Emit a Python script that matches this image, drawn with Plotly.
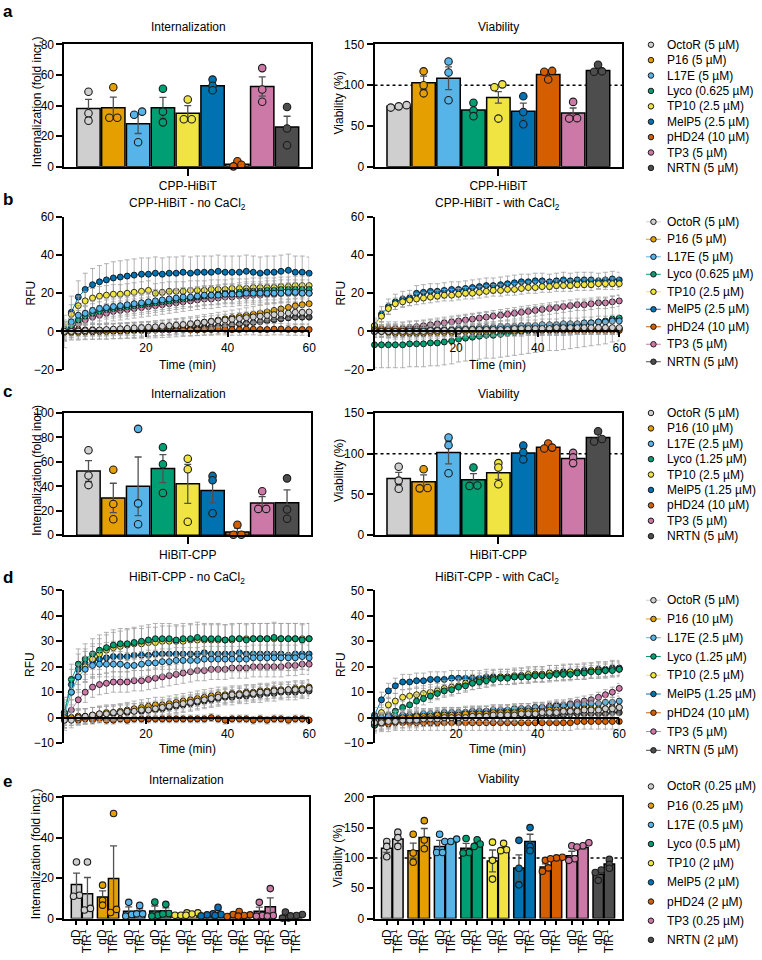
import plotly.graph_objects as go

W, H = 762, 960
FONT = "Liberation Sans, Arial, Helvetica, sans-serif"

# ---------------- data ----------------
PEPTIDES = ["OctoR", "P16", "L17E", "Lyco", "TP10", "MelP5", "pHD24", "TP3", "NRTN"]
COLORS = ["#CFCFCF", "#E69F00", "#56B4E9", "#009E73", "#F0E442", "#0072B2", "#D55E00", "#CC79A7", "#4D4D4D"]

LEG_A = ["OctoR (5 µM)", "P16 (5 µM)", "L17E (5 µM)", "Lyco (0.625 µM)", "TP10 (2.5 µM)",
         "MelP5 (2.5 µM)", "pHD24 (10 µM)", "TP3 (5 µM)", "NRTN (5 µM)"]
LEG_C = ["OctoR (5 µM)", "P16 (10 µM)", "L17E (2.5 µM)", "Lyco (1.25 µM)", "TP10 (2.5 µM)",
         "MelP5 (1.25 µM)", "pHD24 (10 µM)", "TP3 (5 µM)", "NRTN (5 µM)"]
LEG_E = ["OctoR (0.25 µM)", "P16 (0.25 µM)", "L17E (0.5 µM)", "Lyco (0.5 µM)", "TP10 (2 µM)",
         "MelP5 (2 µM)", "pHD24 (2 µM)", "TP3 (0.25 µM)", "NRTN (2 µM)"]

# panel a
A_INT_MEAN = [38, 38.5, 28, 38.5, 35, 53, 1.5, 52.5, 26]
A_INT_SEM = [6, 7, 6.3, 6.8, 5, 2, 0.8, 6.3, 7]
A_INT_PTS = [[49, 35, 30], [52, 32, 32], [36, 34, 16], [51, 36, 29], [44, 31, 31],
             [57, 53, 50], [3.5, 0.2, 1.2], [64.5, 50.5, 42.5], [39, 25, 14]]
A_VIA_MEAN = [74, 103, 108.5, 69.5, 85, 68, 113, 66, 118]
A_VIA_SEM = [1, 8, 14, 5.5, 7, 10, 3.5, 6, 3]
A_VIA_PTS = [[72.5, 75.5, 74], [117, 100, 90], [129, 115.5, 81.5], [78.5, 69, 62], [101, 97.5, 59],
             [86.5, 67, 52], [117.5, 116.5, 107], [79.5, 59.5, 59], [125, 117, 116.5]]

# panel c
C_INT_MEAN = [52.5, 30.5, 40, 54.5, 42, 36.5, 2.7, 26.3, 26.5]
C_INT_SEM = [8.5, 12, 24, 11.5, 16, 10, 3, 5.2, 10.5]
C_INT_PTS = [[69.5, 48.8, 41], [53.5, 25.5, 13], [87, 26, 9], [72, 58, 34.5], [62.5, 54, 11],
             [48.5, 45, 18], [8.5, 0.3, 0.3], [36, 21.5, 21.5], [46.5, 21, 13.5]]
C_VIA_MEAN = [69.5, 65.5, 101.5, 68, 76.5, 101, 108, 94, 120]
C_VIA_SEM = [7.5, 8.5, 14, 7.5, 8, 6, 2.5, 4, 4.5]
C_VIA_PTS = [[84, 67, 57], [81, 58, 57.5], [120, 110.5, 76], [83, 61, 60.5], [88.5, 83, 62.5],
             [110, 101.5, 93], [112.5, 107.5, 106.5], [101, 95.5, 88.5], [127.5, 118, 115]]

# panel e (gD / TfR1 pairs)
E_GROUPS = ["gD", "TfR<sup>1</sup>"]
E_INT_GD_MEAN = [16.8, 10.7, 3.6, 3.7, 2.0, 1.8, 2.2, 3.6, 1.2]
E_INT_GD_SEM = [5.7, 3, 2.2, 2.5, 0.4, 0.3, 0.8, 2, 0.8]
E_INT_GD_PTS = [[28, 11.5, 11], [16.5, 9, 6.6], [8, 1.2, 2], [8.2, 1.6, 1.2], [2.8, 1.6, 1.6],
                [2.3, 1.8, 1.3], [3.5, 2, 1], [8, 1.5, 1.2], [3.2, 0.3, 0.2]]
E_INT_TFR_MEAN = [12.3, 19.8, 3.6, 3.9, 2.2, 3.0, 1.5, 5.8, 1.6]
E_INT_TFR_SEM = [8, 16.2, 1.2, 1.4, 0.4, 1.2, 0.3, 4.4, 0.2]
E_INT_TFR_PTS = [[28, 4.2, 5], [52, 3, 4.5], [6.5, 2.3, 2.3], [7, 2.5, 2.2], [2.8, 2.2, 1.6],
                 [5.5, 2, 1.5], [1.8, 1.5, 1.2], [14.8, 1.5, 1.2], [2, 1.5, 1.3]]
E_VIA_GD_MEAN = [116, 112, 119, 116, 95, 83.5, 85, 103.5, 73]
E_VIA_GD_SEM = [7, 12.5, 10, 8, 18, 21.5, 5.2, 7.5, 5]
E_VIA_GD_PTS = [[127, 119, 102], [139, 108, 93], [139, 109, 109], [132, 109, 108], [126, 96, 65],
                [129, 83, 55.5], [96, 83.5, 78], [120, 98.5, 96], [80, 76, 63]]
E_VIA_TFR_MEAN = [131, 133.5, 127, 122, 113, 127, 99, 117, 90]
E_VIA_TFR_SEM = [8, 15, 2, 3.5, 4, 12, 1, 2.5, 4]
E_VIA_TFR_PTS = [[142.5, 133.5, 119], [161.5, 129.5, 115], [131, 127, 127], [130, 123, 119],
                 [124, 113.5, 112], [150, 119, 112], [101, 100, 98.5], [125, 120, 118], [97.5, 89, 83]]

# kinetic panels (RFU vs time)
TIME_MIN = [0, 1.7, 3.4, 5.1, 6.9, 8.6,
            10.3, 12, 13.7, 15.4, 17.1, 18.9,
            20.6, 22.3, 24, 25.7, 27.4, 29.1,
            30.9, 32.6, 34.3, 36, 37.7, 39.4,
            41.1, 42.9, 44.6, 46.3, 48, 49.7,
            51.4, 53.1, 54.9, 56.6, 58.3, 60]

B_NO = {
    "OctoR": [0, 0, 0.2, 0.4, 0.6, 0.8, 1, 1.2, 1.4, 1.6, 1.8, 2, 2.2, 2.4, 2.7, 3, 3.3, 3.6,
              4, 4.4, 4.8, 5.2, 5.6, 6, 6.4, 6.8, 7.2, 7.6, 8, 8.4, 8.8, 9.2, 9.6, 10, 10, 10.2],
    "P16": [-0.5, -0.5, -0.5, -0.3, -0.2, 0, 0, 0.2, 0.4, 0.6, 0.8, 1, 1.3, 1.6, 2, 2.4, 2.8, 3.2,
            3.7, 4.2, 4.8, 5.4, 6, 6.6, 7.2, 7.8, 8.4, 9, 9.6, 10.2, 11, 11.8, 12.6, 13.4, 14, 14.5],
    "L17E": [0, 5, 8.5, 9.5, 11, 12, 12.5, 13, 13.5, 14, 14.5, 15, 15.5, 16, 16.5, 17, 17.5, 18,
             18, 18.5, 19, 19, 19, 19.5, 19.5, 19.5, 20, 20, 20, 20, 20, 20, 20.5, 20.5, 20, 20],
    "Lyco": [0, 3, 6, 8, 9.5, 10.5, 11.5, 12, 12.5, 13, 13.5, 14, 14.5, 15, 15.5, 16, 16.5, 17,
             17.5, 18, 18.5, 19, 19.5, 20, 20, 20.5, 21, 21, 21, 21.5, 21.5, 22, 22, 22, 22, 22],
    "TP10": [1, 9, 13.5, 16, 17.5, 18.5, 19, 19.5, 19.5, 20, 20.5, 21, 21.5, 20, 20.5, 21, 21, 21,
             21.5, 21.5, 21.5, 22, 22, 22, 22.5, 22.5, 22.5, 23, 23, 23, 23, 23.5, 23.5, 24, 24, 24],
    "MelP5": [0, 10, 18, 22, 24.5, 26, 27, 28, 28.5, 29, 29.5, 30, 30, 30.5, 30, 30.5, 30.5, 31,
              30.5, 31, 31, 31, 31.5, 31, 31, 31, 31.5, 31, 30.5, 31, 31, 31.5, 32, 31, 31, 30.5],
    "pHD24": [0.5, 1, 1, 0.8, 0.8, 0.6, 0.6, 0.8, 1, 1, 0.8, 0.6, 0.6, 0.8, 1, 1, 1.2, 1,
              0.8, 0.8, 1, 1, 1.2, 1.2, 1, 1, 1.2, 1.2, 1, 1, 1.2, 1.2, 1, 1, 1, 1],
    "TP3": [0, 2, 4, 6, 7.5, 8.5, 9.5, 10.5, 11, 11.5, 12, 12.5, 13, 13.5, 14, 14.5, 15, 15.5,
            16, 16.5, 17, 17, 17.5, 18, 18, 18.5, 18.5, 19, 19, 19.5, 19.5, 20, 20, 20, 20, 20],
    "NRTN": [0, 0, 0, 0, 0, 0, 0, 0.2, 0.2, 0.3, 0.4, 0.5, 0.6, 0.7, 0.8, 1, 1.2, 1.4,
             1.6, 1.9, 2.2, 2.5, 2.8, 3.1, 3.5, 3.9, 4.3, 4.7, 5.1, 5.6, 6.1, 6.6, 7.1, 7.5, 7.5, 7.5],
}
B_NO_SD = [3, 4, 5, 5, 5, 8.5, 3, 5, 4]

B_CA = {
    "OctoR": [0, 0, 0, 0, 0, 0, 0, 0, 0.5, 0.5, 0.5, 0.5, 0.5, 1, 1, 1, 1, 1,
              1, 1, 1.5, 1.5, 1.5, 1.5, 1.5, 1.5, 2, 2, 2, 2, 2, 2, 2, 2, 2, 2],
    "P16": [1, 0, -0.5, -1, -1, -1, -1, -1, -0.5, -0.5, -0.5, -0.5, 0, 0, 0, 0, 0, 0.5,
            0.5, 0.5, 0.5, 0.5, 1, 1, 1, 1, 1, 1, 1.5, 1.5, 1.5, 1.5, 1.5, 1.5, 1.5, 1.5],
    "L17E": [0, 0, 0, 0, 0, 0.5, 0.5, 0.5, 1, 1, 1, 1, 1.5, 1.5, 1.5, 2, 2, 2,
             2.5, 2.5, 2.5, 3, 3, 3, 3.5, 3.5, 3.5, 4, 4, 4, 4.5, 4.5, 5, 5, 5.5, 5.5],
    "Lyco": [-7, -7, -7, -7, -7, -6.5, -6.5, -6.5, -6, -6, -5.5, -5, -4, -3.5, -3, -2.5, -2, -2,
             -1.5, -1, -0.5, 0, 0.5, 1, 1.5, 2, 2, 2.5, 3, 3.5, 4, 4.5, 5, 5.5, 6.5, 7],
    "TP10": [3, 8, 12, 14.5, 15.5, 16.5, 17, 17.5, 18, 18.5, 19, 19, 19.5, 20, 20, 20.5, 21, 21.5,
             21.5, 22, 22, 22.5, 23, 23, 23.5, 23.5, 24, 24, 24, 24.5, 24.5, 24.5, 25, 25, 25, 25],
    "MelP5": [3, 9, 13, 15.5, 17, 17.5, 20, 20.5, 21, 21, 21.5, 22, 22, 22.5, 23, 23.5, 24, 24,
              24.5, 25, 25.5, 26, 26, 26.5, 26.5, 26, 26.5, 27, 26.5, 27, 27, 27, 26.5, 27, 27.5, 27],
    "pHD24": [1, 1.5, 1.5, 1.5, 1, 1, 1, 1, 1, 1, 0.5, 0.5, 0.5, 0.5, 0.5, 0.5, 0.5, 0.5,
              0.5, 0.5, 0.5, 0.5, 0.5, 0.5, 0.5, 0.5, 0.5, 0.5, 0.5, 0.5, 0.5, 0.5, 0.5, 0.5, 0.5, 0.5],
    "TP3": [0, 0.5, 1, 1, 1.5, 2, 2.5, 3, 3.5, 4, 4.5, 5, 5.5, 6, 6.5, 7, 7.5, 8,
            8.5, 9, 9.5, 10, 10.5, 11, 11.5, 12, 12.5, 13, 13.5, 14, 14, 14.5, 15, 15, 15.5, 16],
    "NRTN": [0, 0.5, 0.5, 0.5, 0.5, 0.5, 0.5, 0.5, 0.5, 0.5, 0.5, 0.5, 0.5, 0.5, 0.5, 1, 1, 1,
             1, 1, 1, 1, 1, 1, 1, 1, 1, 1, 1, 1.5, 1.5, 1.5, 1.5, 1.5, 1.5, 1.5],
}
B_CA_SD = [3, 3, 3, 12, 3, 4, 2, 3, 3]

D_NO = {
    "OctoR": [-1, -1, 0, 0.5, 1, 1.5, 1.5, 2, 2, 2.5, 2.5, 3, 3, 3.5, 4, 4.5, 5, 5.5,
              6, 6.5, 7, 7.5, 8, 8.5, 9, 9, 9.5, 9.5, 10, 10, 10.5, 10.5, 11, 11, 11, 11.5],
    "P16": [0, 0, 0.5, 0.5, 1, 1.5, 2, 2, 2.5, 3, 3.5, 4, 4.5, 5, 5, 5.5, 6, 6.5,
            7, 7.5, 8, 8.5, 9, 9, 9.5, 9.5, 10, 10, 10.5, 10.5, 11, 11, 11, 11.5, 11.5, 12],
    "L17E": [1, 10, 16, 19, 20.5, 21, 21, 21, 21, 20.5, 20.5, 21, 21.5, 21.5, 22, 22, 22.5, 22.5,
             22.5, 22.5, 23, 23, 23, 23, 23, 23, 23, 23.5, 23.5, 23.5, 23.5, 23.5, 23.5, 23.5, 24, 23.5],
    "Lyco": [2, 15, 21, 23, 25, 26.5, 27.5, 28.5, 29, 29, 29.5, 30, 30.5, 31, 31, 31, 30.5, 31,
             31, 31.5, 31, 31, 31, 30.5, 31, 31, 30.5, 31, 31, 31, 31.5, 31, 31, 31, 30.5, 31],
    "TP10": [1, 10, 16, 20, 23, 25, 26.5, 27.5, 28, 28.5, 29, 29, 29.5, 29.5, 30, 30, 30, 30,
             30.5, 30.5, 30.5, 30.5, 30.5, 30.5, 30.5, 31, 31, 31, 31, 31, 31, 31, 31, 31, 31, 31],
    "MelP5": [2, 13, 19, 21, 22, 23, 23.5, 24, 24, 24, 24.5, 24.5, 24.5, 25, 25, 25, 25, 25,
              25, 25, 25.5, 25, 25, 25, 25, 25.5, 25, 25, 25, 25, 25, 25, 24.5, 25, 25, 25],
    "pHD24": [-1, -0.5, -1, -0.5, -1, -0.5, -1, -1, -0.5, -1, -0.5, -0.5, -0.5, -0.5, -0.5, -0.5, -0.5, -0.5,
              -0.5, -0.5, -0.5, 0, -0.5, -1, -0.5, -0.5, -0.5, -1, -0.5, -1, -0.5, -0.5, -1, -0.5, -0.5, -1],
    "TP3": [0, 3, 7, 10, 12, 13, 13.5, 14, 14, 14, 14.5, 14.5, 15, 15.5, 16, 16.5, 17, 17.5,
            18, 18.5, 18.5, 19, 19, 19, 19.5, 19.5, 19.5, 20, 20, 20, 20, 20, 20.5, 20.5, 21, 21],
    "NRTN": [0, 0, 0.5, 0.5, 1, 1, 1.5, 1.5, 2, 2, 2.5, 2.5, 3, 3, 3.5, 4, 4.5, 5,
             5.5, 6, 6.5, 7, 7.5, 8, 8, 8.5, 8.5, 9, 9, 9.5, 9.5, 10, 10, 10, 10.5, 10.5],
}
D_NO_SD = [3, 3, 5, 6, 6, 6, 1.5, 4, 3]

D_CA = {
    "OctoR": [-2, -2, -1.5, -1.5, -1, -1, -1, -0.5, -0.5, -0.5, 0, 0, 0, 0, 0.5, 0.5, 0.5, 1,
              1, 1, 1, 1.5, 1.5, 1.5, 2, 2, 2, 2.5, 2.5, 2.5, 3, 3, 3, 3.5, 3.5, 4],
    "P16": [-2, -1.5, -1, -0.5, 0, 0, 0.5, 0.5, 0.5, 1, 1, 1, 1, 1.5, 1.5, 1.5, 1.5, 2,
            2, 2, 2, 2.5, 2.5, 2.5, 2.5, 3, 3, 3, 3, 3, 3.5, 3.5, 3.5, 3.5, 4, 4],
    "L17E": [0, 0, 0.5, 0.5, 1, 1, 1, 1.5, 1.5, 1.5, 2, 2, 2, 2, 2.5, 2.5, 2.5, 3,
             3, 3, 3.5, 3.5, 3.5, 4, 4, 4, 4.5, 4.5, 5, 5, 5, 5.5, 5.5, 6, 6, 6.5],
    "Lyco": [-3, -1, 1, 2.5, 4, 5, 6.5, 7.5, 8.5, 9.5, 10.5, 11, 12, 12.5, 13.5, 14, 14.5, 15,
             15.5, 15.5, 16, 16, 16, 16.5, 16.5, 16.5, 17, 17, 17, 17.5, 17.5, 18, 18, 18.5, 18.5, 19],
    "TP10": [-2, 2, 5, 6.5, 8, 8.5, 9, 9.5, 10, 10.5, 11.5, 12, 12.5, 13.5, 14, 14.5, 15, 15.5,
             16, 16, 16.5, 16.5, 17, 17, 17, 17.5, 17.5, 17.5, 18, 18, 18, 18.5, 18.5, 18.5, 19, 19],
    "MelP5": [1, 7, 10.5, 12.5, 14, 14, 14.5, 14.5, 15, 15, 15, 15.5, 15.5, 15.5, 15.5, 15.5, 16, 16,
              16, 16, 16, 16.5, 16.5, 17, 17, 17.5, 17.5, 18, 18, 18, 18.5, 18.5, 19, 19, 19.5, 19.5],
    "pHD24": [-3, -2.5, -2.5, -2, -2, -2, -2, -2, -2, -2, -2, -2, -2, -2, -2, -2, -2, -2,
              -2, -2, -2, -2, -2, -2, -2, -2, -2, -2, -2, -1.5, -1.5, -1.5, -1.5, -1.5, -1.5, -1.5],
    "TP3": [0, -0.5, 0, 0, 0.5, 0.5, 0.5, 1, 1, 1, 1.5, 1.5, 1.5, 2, 2, 2, 2.5, 2.5,
            2.5, 3, 3, 3.5, 3.5, 4, 4, 4.5, 5, 5, 5.5, 6, 6.5, 7, 8, 9, 10, 11.5],
    "NRTN": [-2, -1.5, -1, -1, -1, -0.5, -0.5, -0.5, 0, 0, 0, 0, 0, 0, 0.5, 0.5, 0.5, 0.5,
             0.5, 0.5, 1, 1, 1, 1, 1, 1, 1, 1, 1.5, 1.5, 1.5, 1.5, 1.5, 1.5, 2, 2],
}
D_CA_SD = [3, 3, 2, 2.5, 3, 3, 3, 2, 3]

# ---------------- helpers ----------------
fig = go.Figure()
layout = dict(width=W, height=H, margin=dict(l=0, r=0, t=0, b=0),
              paper_bgcolor="white", plot_bgcolor="white", showlegend=False,
              barmode="overlay", font=dict(family=FONT, size=12, color="black"))
annotations, shapes = [], []
_axn = [0]


def px_x(x):
    return x / W


def px_y(y):
    return 1 - y / H


def add_axes(xpx, ypx, xopts, yopts):
    _axn[0] += 1
    s = "" if _axn[0] == 1 else str(_axn[0])
    layout["xaxis" + s] = dict(domain=[px_x(xpx[0]), px_x(xpx[1])], anchor="y" + s, **xopts)
    layout["yaxis" + s] = dict(domain=[px_y(ypx[1]), px_y(ypx[0])], anchor="x" + s, **yopts)
    return "x" + s, "y" + s


def axis_style(**kw):
    d = dict(showline=True, linecolor="black", linewidth=2, ticks="outside", ticklen=6,
             tickwidth=2, tickcolor="black", showgrid=False, zeroline=False,
             tickfont=dict(family=FONT, size=12, color="black"), fixedrange=True)
    d.update(kw)
    return d


def text(x, y, s, size=12, bold=False, angle=0, xanchor="center", yanchor="middle"):
    annotations.append(dict(x=px_x(x), y=px_y(y), xref="paper", yref="paper",
                            text=f"<b>{s}</b>" if bold else s, showarrow=False,
                            font=dict(size=size, family=FONT, color="black"),
                            textangle=angle, xanchor=xanchor, yanchor=yanchor))


def swarm(vals, py_per_unit, step_units, thr_px=3.5):
    order = sorted(range(len(vals)), key=lambda i: vals[i])
    clusters = [[order[0]]]
    for i in order[1:]:
        if (vals[i] - vals[clusters[-1][-1]]) * py_per_unit < thr_px:
            clusters[-1].append(i)
        else:
            clusters.append([i])
    offs = [0.0] * len(vals)
    for cl in clusters:
        k = len(cl)
        for j, i in enumerate(cl):
            offs[i] = (j - (k - 1) / 2) * step_units
    return offs


def bar_panel(xpx, ypx, xrange, yrange, ytickvals, positions, means, sems, points, colors,
              xtickvals, xticktext, spread_px, msize, tickangle=0, xticklen=7, ref100=False):
    xa, ya = add_axes(xpx, ypx,
                      axis_style(range=xrange, tickvals=xtickvals, ticktext=xticktext, mirror=True,
                                 tickangle=tickangle, ticklen=xticklen),
                      axis_style(range=yrange, tickvals=ytickvals, mirror=True))
    py_per_unit = (ypx[1] - ypx[0]) / (yrange[1] - yrange[0])
    px_per_unit = (xpx[1] - xpx[0]) / (xrange[1] - xrange[0])
    if ref100:
        shapes.append(dict(type="line", xref=f"{xa} domain", yref=ya, x0=0, x1=1, y0=100, y1=100,
                           line=dict(color="black", width=1.5, dash="dot"), layer="below"))
    fig.add_trace(go.Bar(x=positions, y=means, width=0.94, xaxis=xa, yaxis=ya,
                         marker=dict(color=colors, line=dict(color="black", width=1.5)),
                         error_y=dict(type="data", array=sems, color="#505050", thickness=1.3, width=3.5)))
    xs, ys, cs = [], [], []
    for pos, pts, c in zip(positions, points, colors):
        offs = swarm(pts, py_per_unit, spread_px / px_per_unit)
        for v, o in zip(pts, offs):
            xs.append(pos + o)
            ys.append(v)
            cs.append(c)
    fig.add_trace(go.Scatter(x=xs, y=ys, mode="markers", xaxis=xa, yaxis=ya, cliponaxis=False,
                             marker=dict(color=cs, size=msize, line=dict(color="#1a1a1a", width=1.1))))
    return xa, ya


def ts_panel(xpx, ypx, yrange, ytickvals, series, sds):
    ymin, ymax = yrange
    y0_px = ypx[1] - (0 - ymin) / (ymax - ymin) * (ypx[1] - ypx[0])
    xa, ya = add_axes(xpx, ypx,
                      axis_style(range=[0, 60], tickvals=[20, 40, 60], ticklen=5),
                      axis_style(range=yrange, tickvals=ytickvals))
    key = "xaxis" + xa[1:]
    layout[key]["anchor"] = "free"
    layout[key]["position"] = px_y(y0_px)
    for i in reversed(range(len(PEPTIDES))):
        fig.add_trace(go.Scatter(x=TIME_MIN, y=series[PEPTIDES[i]], mode="lines+markers",
                                 xaxis=xa, yaxis=ya, cliponaxis=False,
                                 line=dict(color=COLORS[i], width=1),
                                 marker=dict(color=COLORS[i], size=6, line=dict(color="black", width=0.8)),
                                 error_y=dict(type="constant", value=sds[i], color="#a0a0a0",
                                              thickness=0.8, width=2.5)))
    return xa, ya


def legend_panel(xc, ytop, ybot, labels, with_line=False):
    n = len(labels)
    s = (ybot - ytop) / (n - 1)
    half = 7.5
    xa, ya = add_axes([xc - half, xc + half], [ytop - s / 2, ybot + s / 2],
                      dict(visible=False, range=[-1, 1], fixedrange=True),
                      dict(visible=False, type="category", categoryorder="array", categoryarray=labels,
                           range=[n - 0.5, -0.5], fixedrange=True))
    for i, lab in enumerate(labels):
        kw = {}
        if with_line:
            kw["error_x"] = dict(type="constant", value=1, color=COLORS[i], thickness=1, width=0)
        fig.add_trace(go.Scatter(x=[0], y=[lab], mode="markers", xaxis=xa, yaxis=ya, cliponaxis=False,
                                 marker=dict(color=COLORS[i], size=5.5, line=dict(color="#1a1a1a", width=1)),
                                 **kw))
        annotations.append(dict(x=0, y=lab, xref=xa, yref=ya, text=lab, showarrow=False,
                                xanchor="left", yanchor="middle", xshift=12 if with_line else 14,
                                font=dict(size=12, family=FONT, color="black")))


# ---------------- build ----------------
IDX = list(range(len(PEPTIDES)))
BAR_XR = [-0.97, 8.97]

# a
bar_panel((65, 314), (38, 162), BAR_XR, [0, 80], [0, 20, 40, 60, 80], IDX, A_INT_MEAN, A_INT_SEM,
          A_INT_PTS, COLORS, [4], ["CPP-HiBiT"], 8, 7.5)
bar_panel((378, 628), (38, 162), BAR_XR, [0, 150], [0, 50, 100, 150], IDX, A_VIA_MEAN, A_VIA_SEM,
          A_VIA_PTS, COLORS, [4], ["CPP-HiBiT"], 8, 7.5, ref100=True)
legend_panel(657, 38.3, 163.3, LEG_A)

# b
ts_panel((65, 312), (213, 368), [-20, 60], [-20, 0, 20, 40, 60], B_NO, B_NO_SD)
ts_panel((378, 625), (213, 368), [-20, 60], [-20, 0, 20, 40, 60], B_CA, B_CA_SD)
legend_panel(659.5, 218, 360, LEG_A, with_line=True)

# c
bar_panel((65, 314), (412, 536), BAR_XR, [0, 100], [0, 20, 40, 60, 80, 100], IDX, C_INT_MEAN, C_INT_SEM,
          C_INT_PTS, COLORS, [4], ["HiBiT-CPP"], 8, 7.5)
bar_panel((378, 628), (412, 536), BAR_XR, [0, 150], [0, 50, 100, 150], IDX, C_VIA_MEAN, C_VIA_SEM,
          C_VIA_PTS, COLORS, [4], ["HiBiT-CPP"], 8, 7.5, ref100=True)
legend_panel(657, 412, 537, LEG_C)

# d
ts_panel((65, 312), (592, 747), [-10, 50], [-10, 0, 10, 20, 30, 40, 50], D_NO, D_NO_SD)
ts_panel((378, 625), (592, 747), [-10, 50], [-10, 0, 10, 20, 30, 40, 50], D_CA, D_CA_SD)
legend_panel(659.5, 602, 754.3, LEG_C, with_line=True)

# e
GROUP_STEP = 2.38
E_XR = [-1.1, 21.2]
e_pos, e_cols, e_ticks = [], [], []
for g in IDX:
    for k in range(2):
        e_pos.append(g * GROUP_STEP + k)
        e_cols.append(COLORS[g])
        e_ticks.append(E_GROUPS[k])


def interleave(a, b):
    out = []
    for x, y in zip(a, b):
        out += [x, y]
    return out


bar_panel((65, 312), (802, 925), E_XR, [0, 60], [0, 20, 40, 60], e_pos,
          interleave(E_INT_GD_MEAN, E_INT_TFR_MEAN), interleave(E_INT_GD_SEM, E_INT_TFR_SEM),
          interleave(E_INT_GD_PTS, E_INT_TFR_PTS), e_cols, e_pos, e_ticks, 6, 6.5,
          tickangle=-90, xticklen=4)
bar_panel((378, 628), (802, 925), E_XR, [0, 200], [0, 50, 100, 150, 200], e_pos,
          interleave(E_VIA_GD_MEAN, E_VIA_TFR_MEAN), interleave(E_VIA_GD_SEM, E_VIA_TFR_SEM),
          interleave(E_VIA_GD_PTS, E_VIA_TFR_PTS), e_cols, e_pos, e_ticks, 6, 6.5,
          tickangle=-90, xticklen=4, ref100=True)
legend_panel(657, 791, 946.7, LEG_E)

# ---------------- texts ----------------
for letter, y in [("a", 5), ("b", 195), ("c", 390), ("d", 579), ("e", 786)]:
    text(1, y, letter, size=17, bold=True, xanchor="left")

text(190, 20, "Internalization")
text(503, 20, "Viability")
text(189, 200, "CPP-HiBiT - no CaCl<sub>2</sub>")
text(502, 200, "CPP-HiBiT - with CaCl<sub>2</sub>")
text(190, 393, "Internalization")
text(503, 393, "Viability")
text(189, 579, "HiBiT-CPP - no CaCl<sub>2</sub>")
text(502, 579, "HiBiT-CPP - with CaCl<sub>2</sub>")
text(188, 784, "Internalization")
text(503, 783, "Viability")

text(37, 96, "Internalization (fold incr.)", angle=-90)
text(342, 97, "Viability (%)", angle=-90)
text(31, 290, "RFU", angle=-90)
text(344, 290, "RFU", angle=-90)
text(37, 470, "Internalization (fold incr.)", angle=-90)
text(342, 470, "Viability (%)", angle=-90)
text(31, 667, "RFU", angle=-90)
text(344, 667, "RFU", angle=-90)
text(37, 859, "Internalization (fold incr.)", angle=-90)
text(342, 861, "Viability (%)", angle=-90)

text(189, 363, "Time (min)")
text(502, 363, "Time (min)")
text(189, 753, "Time (min)")
text(502, 753, "Time (min)")

layout["annotations"] = annotations
layout["shapes"] = shapes
fig.update_layout(layout)
fig.write_html("out.html")
